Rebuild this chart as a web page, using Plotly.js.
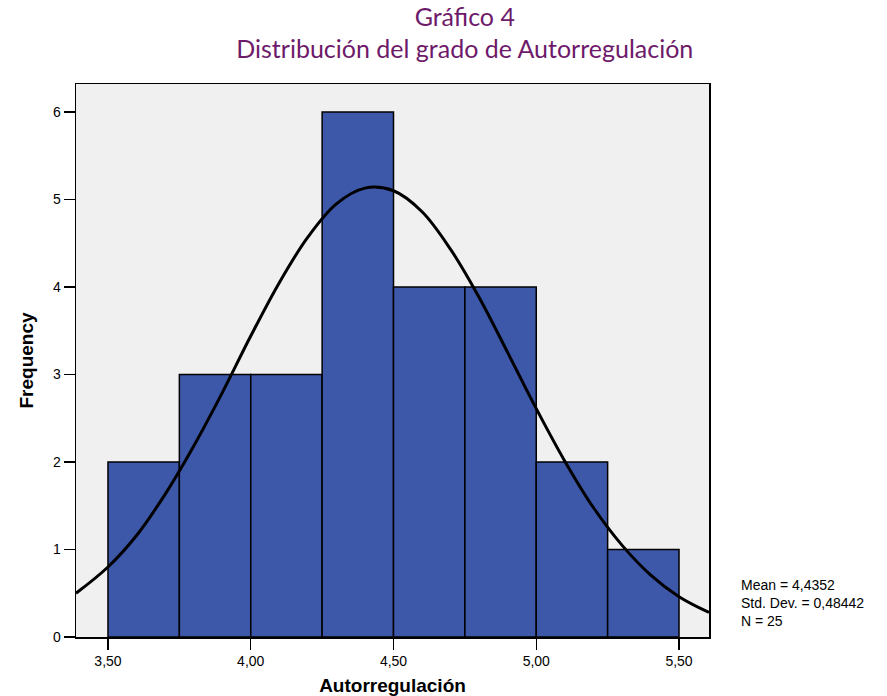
<!DOCTYPE html>
<html>
<head>
<meta charset="utf-8">
<script src="https://cdn.plot.ly/plotly-3.0.1.min.js"></script>
<style>html,body{margin:0;padding:0;background:#fff;}#chart{width:887px;height:696px;}</style>
</head>
<body>
<div id="chart"></div>
<script>
// Histogram bins (centers) and counts
const binCenters = [3.625, 3.875, 4.125, 4.375, 4.625, 4.875, 5.125, 5.375];
const counts = [2, 3, 3, 6, 4, 4, 2, 1];
// Fitted normal curve
const curveX = [3.388, 3.5, 3.6, 3.7, 3.8, 3.9, 4.0, 4.1, 4.2, 4.3, 4.4, 4.5, 4.6, 4.7, 4.8, 4.9, 5.0, 5.1, 5.2, 5.3, 5.4, 5.5, 5.605];
const curveY = [0.50, 0.80, 1.16, 1.63, 2.18, 2.79, 3.44, 4.05, 4.57, 4.95, 5.13, 5.10, 4.86, 4.43, 3.88, 3.25, 2.61, 2.01, 1.48, 1.05, 0.71, 0.46, 0.28];
const xTickVals = [3.5, 4.0, 4.5, 5.0, 5.5];
const xTickText = ["3,50", "4,00", "4,50", "5,00", "5,50"];
const yTickVals = [0, 1, 2, 3, 4, 5, 6];
const statsLines = ["Mean = 4,4352", "Std. Dev. = 0,48442", "N = 25"];
const titleLines = ["Gráfico 4", "Distribución del grado de Autorregulación"];

const traces = [
  {type: 'bar', x: binCenters, y: counts, width: 0.25,
   marker: {color: '#3d57a9', line: {color: '#000', width: 1.5}}, hoverinfo: 'x+y'},
  {type: 'scatter', mode: 'lines', x: curveX, y: curveY, line: {color: '#000', width: 3, shape: 'spline'}, hoverinfo: 'skip'}
];

const axFont = 'Liberation Sans, Arial, sans-serif';
const layout = {
  width: 887, height: 696,
  margin: {l: 76, r: 178, t: 84, b: 59},
  paper_bgcolor: '#fff', plot_bgcolor: '#f0f0f0',
  showlegend: false,
  bargap: 0,
  title: {text: titleLines.join('<br>'),
          font: {family: 'Lato, "Noto Sans", sans-serif', size: 25, color: '#6e1a6a'},
          x: 0.524, xanchor: 'center', xref: 'container', yref: 'container', y: 0.963, yanchor: 'middle'},
  xaxis: {range: [3.388, 5.605], tickvals: xTickVals, ticktext: xTickText,
          ticks: 'outside', ticklen: 11, tickwidth: 1.5, tickcolor: '#000',
          showgrid: false, zeroline: false, showline: true, linecolor: '#000', linewidth: 1.5, mirror: true,
          tickfont: {family: axFont, size: 14, color: '#000'},
          title: {text: '<b>Autorregulación</b>', standoff: 10,
                  font: {family: axFont, size: 19, color: '#000'}}},
  yaxis: {range: [0, 6.32], tickvals: yTickVals,
          ticks: 'outside', ticklen: 11, tickwidth: 1.5, tickcolor: '#000',
          showgrid: false, zeroline: false, showline: true, linecolor: '#000', linewidth: 1.5, mirror: true,
          tickfont: {family: axFont, size: 14, color: '#000'},
          title: {text: '<b>Frequency</b>', standoff: 14,
                  font: {family: axFont, size: 19, color: '#000'}}},
  annotations: [{
    xref: 'paper', yref: 'paper', x: 1.048, y: 0.112, xanchor: 'left', yanchor: 'top', align: 'left',
    showarrow: false, text: statsLines.join('<br>'),
    font: {family: axFont, size: 14, color: '#000'}
  }]
};

Plotly.newPlot('chart', traces, layout, {displayModeBar: false, staticPlot: true});
</script>
</body>
</html>
